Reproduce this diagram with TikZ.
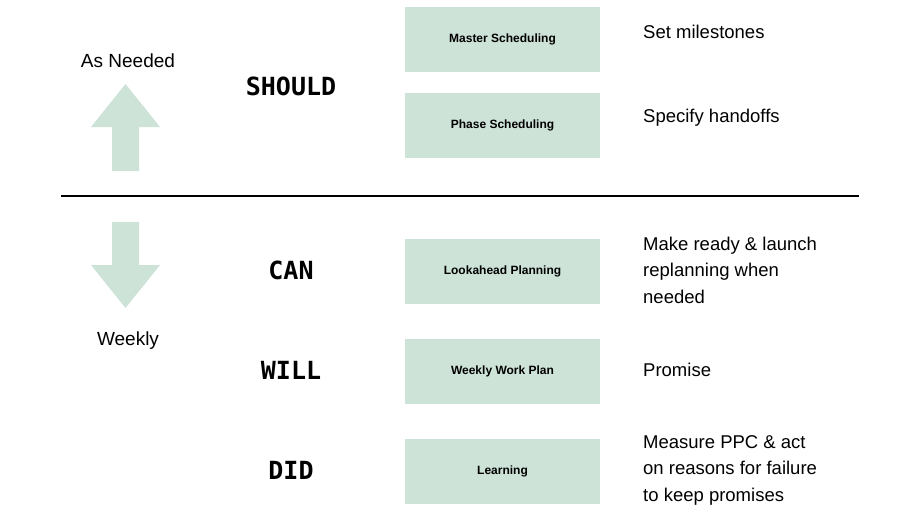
\documentclass[tikz,border=0pt]{standalone}
\usepackage{fontspec}
\setmainfont{Liberation Sans}
\newfontfamily\monofam{DejaVu Sans Mono}
\usetikzlibrary{positioning}
\definecolor{sage}{RGB}{205,227,216}

\tikzset{
  stagebox/.style={fill=sage, minimum width=195pt, minimum height=65pt,
    inner sep=0pt, font=\fontsize{12}{14}\selectfont\bfseries},
  levelword/.style={font=\monofam\bfseries\fontsize{25}{28}\selectfont},
  purpose/.style={anchor=west, align=left, inner sep=0pt,
    font=\fontsize{18.5}{26.5}\selectfont},
  cadence/.style={font=\fontsize{19}{22}\selectfont},
}

\begin{document}
\begin{tikzpicture}[x=1pt, y=-1pt]
  \useasboundingbox (0,0) rectangle (920,517);

  % planning levels
  \node[stagebox] (master) at (502.5,39.5) {Master Scheduling};
  \node[stagebox] (phase) at (502.5,125.5) {Phase Scheduling};
  \node[stagebox] (look) at (502.5,271.5) {Lookahead Planning};
  \node[stagebox] (wwp) at (502.5,371.5) {Weekly Work Plan};
  \node[stagebox] (learn) at (502.5,471.5) {Learning};

  \node[levelword] (should) at (291,86) {SHOULD};
  \node[levelword] (can) at (291,270) {CAN};
  \node[levelword] (will) at (291,370) {WILL};
  \node[levelword] (did) at (291,470) {DID};

  \node[purpose] (milest) at (643,32) {Set milestones};
  \node[purpose] (handoff) at (643,118) {Specify handoffs};
  \node[purpose] (ready) at (643,270) {Make ready \& launch\\replanning when\\needed};
  \node[purpose] (promise) at (643,370) {Promise};
  \node[purpose] (measure) at (643,470) {Measure PPC \& act\\on reasons for failure\\to keep promises};

  % divider
  \coordinate (divl) at (61,196);
  \coordinate (divr) at (859,196);
  \draw[line width=2pt] (divl) -- (divr);

  % cadence arrows
  \node[cadence] (asneeded) at (128,61) {As Needed};
  \node[cadence] (weekly) at (128,341) {Weekly};
  \fill[sage] (112,171) -- (112,127) -- (91,127) -- (125.5,84) -- (160,127)
    -- (139,127) -- (139,171) -- cycle;
  \fill[sage] (112,222) -- (112,265) -- (91,265) -- (125.5,308) -- (160,265)
    -- (139,265) -- (139,222) -- cycle;
\end{tikzpicture}
\end{document}
